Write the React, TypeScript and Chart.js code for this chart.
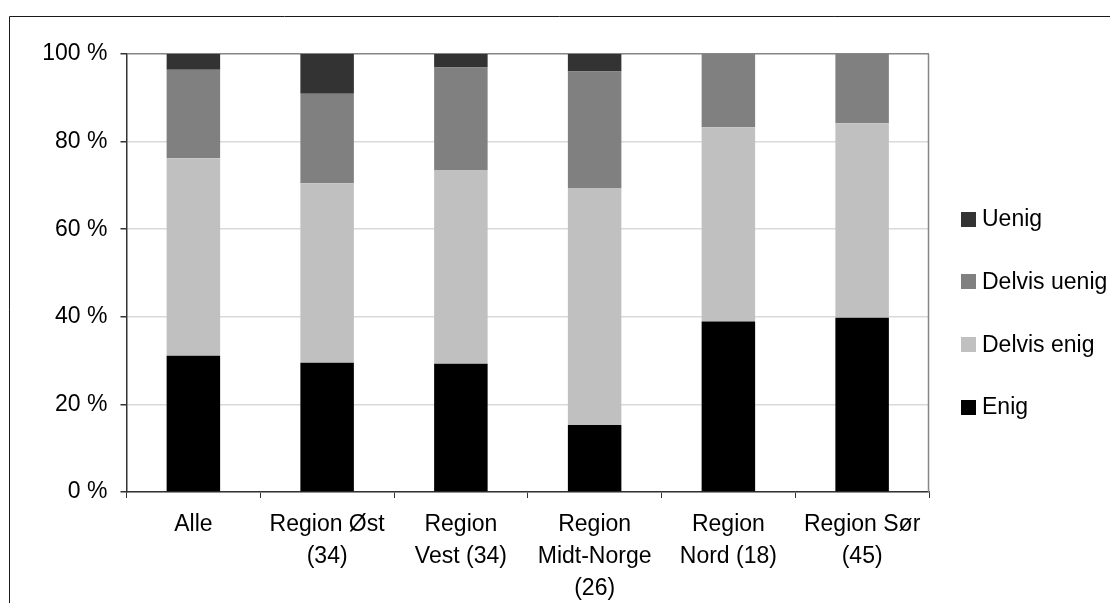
import React, { useEffect, useRef } from "react";
import { Chart, registerables } from "chart.js";

Chart.register(...registerables);

const categories: (string | string[])[] = [
  "Alle",
  ["Region Øst", "(34)"],
  ["Region", "Vest (34)"],
  ["Region", "Midt-Norge", "(26)"],
  ["Region", "Nord (18)"],
  ["Region Sør", "(45)"],
];

const enig = [31.1, 29.5, 29.3, 15.3, 38.9, 39.8];
const delvisEnig = [45.1, 41.0, 44.2, 54.0, 44.4, 44.4];
const delvisUenig = [20.2, 20.4, 23.4, 26.7, 16.7, 15.8];
const uenig = [3.6, 9.1, 3.1, 4.0, 0, 0];

const seriesNames = ["Enig", "Delvis enig", "Delvis uenig", "Uenig"];
const seriesColors = ["#000000", "#c0c0c0", "#808080", "#333333"];
const yTicks = [0, 20, 40, 60, 80, 100];

const FONT = "'Liberation Sans', Arial, sans-serif";

const framePlugin = {
  id: "framePlugin",
  beforeDraw(chart: any) {
    const ctx = chart.ctx;
    ctx.save();
    ctx.fillStyle = "#ffffff";
    ctx.fillRect(0, 0, chart.width, chart.height);
    ctx.strokeStyle = "#1a1a1a";
    ctx.lineWidth = 1;
    ctx.beginPath();
    ctx.moveTo(9.5, chart.height);
    ctx.lineTo(9.5, 16.5);
    ctx.lineTo(chart.width, 16.5);
    ctx.stroke();
    ctx.restore();
  },
  afterDatasetsDraw(chart: any) {
    const { ctx, chartArea } = chart;
    ctx.save();
    ctx.strokeStyle = "#868686";
    ctx.lineWidth = 1.5;
    ctx.beginPath();
    ctx.moveTo(Math.round(chartArea.right) - 0.5, chartArea.top);
    ctx.lineTo(Math.round(chartArea.right) - 0.5, chartArea.bottom);
    ctx.stroke();
    ctx.restore();
  },
  afterDraw(chart: any) {
    const ctx = chart.ctx;
    const ds = chart.data.datasets;
    ctx.save();
    ctx.font = `23px ${FONT}`;
    ctx.textBaseline = "middle";
    ctx.textAlign = "left";
    const startY = 219;
    const step = 62.7;
    for (let i = ds.length - 1, k = 0; i >= 0; i--, k++) {
      const cy = startY + k * step;
      ctx.fillStyle = ds[i].backgroundColor;
      ctx.fillRect(961, Math.round(cy - 7.5), 15, 15);
      ctx.fillStyle = "#000000";
      ctx.fillText(ds[i].label, 982, cy + 1);
    }
    ctx.restore();
  },
};

export default function App() {
  const ref = useRef<HTMLCanvasElement | null>(null);

  useEffect(() => {
    if (!ref.current) return;
    const datasets = [enig, delvisEnig, delvisUenig, uenig].map((d, i) => ({
      label: seriesNames[i],
      data: d,
      backgroundColor: seriesColors[i],
      borderWidth: 0,
      categoryPercentage: 1,
      barPercentage: 0.4,
    }));
    const chart = new Chart(ref.current, {
      type: "bar",
      data: { labels: categories as any, datasets },
      options: {
        animation: false,
        responsive: false,
        devicePixelRatio: 1,
        layout: { padding: { left: 0, right: 181, top: 54, bottom: 0 } },
        plugins: {
          legend: { display: false },
          tooltip: { enabled: false },
        },
        scales: {
          x: {
            stacked: true,
            afterFit: (s: any) => {
              s.height = 111;
            },
            border: { display: true, color: "#333333", width: 1.5 },
            grid: {
              display: true,
              drawOnChartArea: false,
              drawTicks: true,
              tickLength: 6,
              tickColor: "#333333",
              offset: true,
            },
            ticks: {
              color: "#000000",
              padding: 11,
              maxRotation: 0,
              autoSkip: false,
              font: { family: FONT, size: 23, lineHeight: 1.39 },
            },
          },
          y: {
            stacked: true,
            min: 0,
            max: 100,
            afterFit: (s: any) => {
              s.width = 126.5;
            },
            afterBuildTicks: (s: any) => {
              s.ticks = yTicks.map((v) => ({ value: v }));
            },
            border: { display: true, color: "#333333", width: 1.5 },
            grid: {
              color: (c: any) => (c.tick && c.tick.value === 100 ? "#868686" : "#d9d9d9"),
              lineWidth: (c: any) => (c.tick && c.tick.value === 100 ? 1.5 : 1.5),
              drawTicks: true,
              tickLength: 6,
              tickColor: "#333333",
            },
            ticks: {
              color: "#000000",
              padding: 13,
              callback: (v: any) => `${v} %`,
              font: { family: FONT, size: 23 },
            },
          },
        },
      },
      plugins: [framePlugin],
    });
    return () => chart.destroy();
  }, []);

  return (
    <div style={{ position: "absolute", left: 0, top: 0, width: 1110, height: 603 }}>
      <canvas ref={ref} width={1110} height={603} style={{ display: "block" }} />
    </div>
  );
}
